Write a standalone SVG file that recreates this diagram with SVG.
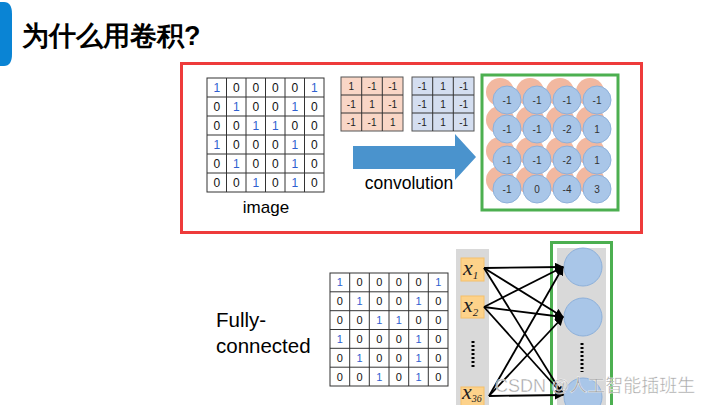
<svg xmlns="http://www.w3.org/2000/svg" width="720" height="405" viewBox="0 0 720 405">
<defs>
<style>
.t{font-family:"Liberation Sans","Noto Sans",sans-serif;fill:#000}
.c{font-family:"Liberation Sans",sans-serif;font-size:12px;text-anchor:middle;fill:#111}
.c.b{fill:#2f5fd0}
.cs{font-family:"Liberation Sans",sans-serif;font-size:11px;text-anchor:middle;fill:#111}
.cs.b{fill:#2f5fd0}
.k{font-family:"Liberation Sans",sans-serif;font-size:10px;text-anchor:middle;fill:#222}
.grid{fill:#fff;stroke:#333;stroke-width:1}
.gl{stroke:#333;stroke-width:1}
.oc{fill:#f2b8a0}
.bc{fill:#a9c6e8;stroke:#8db0da;stroke-width:1}
.ov{font-family:"Liberation Sans",sans-serif;font-size:10px;text-anchor:middle;fill:#333}
.xl{font-family:"Liberation Serif",serif;font-style:italic;font-size:22px;fill:#222}
.xbox{fill:#fdd28a;stroke:#f5c06a;stroke-width:1}
.ln{stroke:#000;stroke-width:1.8;fill:none}
</style>
<marker id="ah" viewBox="0 0 10 10" refX="9" refY="5" markerWidth="5" markerHeight="5" orient="auto">
<path d="M0,0 L10,5 L0,10 z" fill="#000"/>
</marker>
</defs>
<rect width="720" height="405" fill="#fff"/>

<g id="title">
<path d="M0,2 L4,2 Q12,2 12,14 L12,54 Q12,66 4,66 L0,66 z" fill="#0a84d4"/>
<text x="22" y="45" class="t" font-size="27" font-weight="bold" font-family="'Noto Sans CJK SC',sans-serif">为什么用卷积?</text>
</g>

<g id="conv-frame">
<rect x="181.5" y="63.5" width="460" height="169" fill="none" stroke="#ee3b3b" stroke-width="3"/>
</g>

<g id="image-grid">
<rect x="207" y="78" width="117" height="114" class="grid"/>
<path class="gl" d="M226.5,78V192M246,78V192M265.5,78V192M285,78V192M304.5,78V192M207,97H324M207,116H324M207,135H324M207,154H324M207,173H324"/>
<g>
<text class="c b" x="216.75" y="91.5">1</text><text class="c" x="236.25" y="91.5">0</text><text class="c" x="255.75" y="91.5">0</text><text class="c" x="275.25" y="91.5">0</text><text class="c" x="294.75" y="91.5">0</text><text class="c b" x="314.25" y="91.5">1</text>
<text class="c" x="216.75" y="110.5">0</text><text class="c b" x="236.25" y="110.5">1</text><text class="c" x="255.75" y="110.5">0</text><text class="c" x="275.25" y="110.5">0</text><text class="c b" x="294.75" y="110.5">1</text><text class="c" x="314.25" y="110.5">0</text>
<text class="c" x="216.75" y="129.5">0</text><text class="c" x="236.25" y="129.5">0</text><text class="c b" x="255.75" y="129.5">1</text><text class="c b" x="275.25" y="129.5">1</text><text class="c" x="294.75" y="129.5">0</text><text class="c" x="314.25" y="129.5">0</text>
<text class="c b" x="216.75" y="148.5">1</text><text class="c" x="236.25" y="148.5">0</text><text class="c" x="255.75" y="148.5">0</text><text class="c" x="275.25" y="148.5">0</text><text class="c b" x="294.75" y="148.5">1</text><text class="c" x="314.25" y="148.5">0</text>
<text class="c" x="216.75" y="167.5">0</text><text class="c b" x="236.25" y="167.5">1</text><text class="c" x="255.75" y="167.5">0</text><text class="c" x="275.25" y="167.5">0</text><text class="c b" x="294.75" y="167.5">1</text><text class="c" x="314.25" y="167.5">0</text>
<text class="c" x="216.75" y="186.5">0</text><text class="c" x="236.25" y="186.5">0</text><text class="c b" x="255.75" y="186.5">1</text><text class="c" x="275.25" y="186.5">0</text><text class="c b" x="294.75" y="186.5">1</text><text class="c" x="314.25" y="186.5">0</text>
</g>
<text x="266" y="213" class="t" font-size="17" text-anchor="middle">image</text>
</g>

<g id="kernel-1">
<rect x="341" y="77" width="62" height="54" fill="#f9d6c6" stroke="#555" stroke-width="1"/>
<path class="gl" stroke="#666" d="M361.7,77V131M382.3,77V131M341,95H403M341,113H403"/>
<text class="k" x="351.3" y="90">1</text><text class="k" x="372" y="90">-1</text><text class="k" x="392.7" y="90">-1</text>
<text class="k" x="351.3" y="108">-1</text><text class="k" x="372" y="108">1</text><text class="k" x="392.7" y="108">-1</text>
<text class="k" x="351.3" y="126">-1</text><text class="k" x="372" y="126">-1</text><text class="k" x="392.7" y="126">1</text>
</g>

<g id="kernel-2">
<rect x="412" y="77" width="62" height="54" fill="#d4def0" stroke="#555" stroke-width="1"/>
<path class="gl" stroke="#666" d="M432.7,77V131M453.3,77V131M412,95H474M412,113H474"/>
<text class="k" x="422.3" y="90">-1</text><text class="k" x="443" y="90">1</text><text class="k" x="463.7" y="90">-1</text>
<text class="k" x="422.3" y="108">-1</text><text class="k" x="443" y="108">1</text><text class="k" x="463.7" y="108">-1</text>
<text class="k" x="422.3" y="126">-1</text><text class="k" x="443" y="126">1</text><text class="k" x="463.7" y="126">-1</text>
</g>

<g id="convolution-arrow">
<path d="M353,146 H455 V134 L476,157 L455,180 V169 H353 z" fill="#4a93cd"/>
<text x="409" y="189" class="t" font-size="17.5" text-anchor="middle">convolution</text>
</g>

<g id="feature-map">
<rect x="482" y="75" width="136" height="135" fill="#fff" stroke="#4caf50" stroke-width="3"/>
<g>
<circle class="oc" cx="500" cy="92" r="14"/><circle class="oc" cx="530" cy="92" r="14"/><circle class="oc" cx="560" cy="92" r="14"/><circle class="oc" cx="590" cy="92" r="14"/>
<circle class="oc" cx="500" cy="120" r="14"/><circle class="oc" cx="530" cy="120" r="14"/><circle class="oc" cx="560" cy="120" r="14"/><circle class="oc" cx="590" cy="120" r="14"/>
<circle class="oc" cx="500" cy="151" r="14"/><circle class="oc" cx="530" cy="151" r="14"/><circle class="oc" cx="560" cy="151" r="14"/><circle class="oc" cx="590" cy="151" r="14"/>
<circle class="oc" cx="500" cy="180" r="14"/><circle class="oc" cx="530" cy="180" r="14"/><circle class="oc" cx="560" cy="180" r="14"/><circle class="oc" cx="590" cy="180" r="14"/>
</g>
<g>
<circle class="bc" cx="507" cy="100" r="14"/><circle class="bc" cx="537" cy="100" r="14"/><circle class="bc" cx="567" cy="100" r="14"/><circle class="bc" cx="597" cy="100" r="14"/>
<circle class="bc" cx="507" cy="129" r="14"/><circle class="bc" cx="537" cy="129" r="14"/><circle class="bc" cx="567" cy="129" r="14"/><circle class="bc" cx="597" cy="129" r="14"/>
<circle class="bc" cx="507" cy="160" r="14"/><circle class="bc" cx="537" cy="160" r="14"/><circle class="bc" cx="567" cy="160" r="14"/><circle class="bc" cx="597" cy="160" r="14"/>
<circle class="bc" cx="507" cy="189" r="14"/><circle class="bc" cx="537" cy="189" r="14"/><circle class="bc" cx="567" cy="189" r="14"/><circle class="bc" cx="597" cy="189" r="14"/>
</g>
<text class="ov" x="507" y="104">-1</text><text class="ov" x="537" y="104">-1</text><text class="ov" x="567" y="104">-1</text><text class="ov" x="597" y="104">-1</text>
<text class="ov" x="507" y="133">-1</text><text class="ov" x="537" y="133">-1</text><text class="ov" x="567" y="133">-2</text><text class="ov" x="597" y="133">1</text>
<text class="ov" x="507" y="164">-1</text><text class="ov" x="537" y="164">-1</text><text class="ov" x="567" y="164">-2</text><text class="ov" x="597" y="164">1</text>
<text class="ov" x="507" y="193">-1</text><text class="ov" x="537" y="193">0</text><text class="ov" x="567" y="193">-4</text><text class="ov" x="597" y="193">3</text>
</g>

<g id="fc-label">
<text x="216" y="327" class="t" font-size="20.5">Fully-</text>
<text x="216" y="353" class="t" font-size="20.5">connected</text>
</g>

<g id="fc-grid">
<rect x="330" y="273" width="118" height="113" class="grid"/>
<path class="gl" d="M349.7,273V386M369.3,273V386M389,273V386M408.7,273V386M428.3,273V386M330,291.8H448M330,310.7H448M330,329.5H448M330,348.3H448M330,367.2H448"/>
<text class="cs b" x="339.8" y="286.4">1</text><text class="cs" x="359.5" y="286.4">0</text><text class="cs" x="379.2" y="286.4">0</text><text class="cs" x="398.8" y="286.4">0</text><text class="cs" x="418.5" y="286.4">0</text><text class="cs b" x="438.2" y="286.4">1</text>
<text class="cs" x="339.8" y="305.2">0</text><text class="cs b" x="359.5" y="305.2">1</text><text class="cs" x="379.2" y="305.2">0</text><text class="cs" x="398.8" y="305.2">0</text><text class="cs b" x="418.5" y="305.2">1</text><text class="cs" x="438.2" y="305.2">0</text>
<text class="cs" x="339.8" y="324.1">0</text><text class="cs" x="359.5" y="324.1">0</text><text class="cs b" x="379.2" y="324.1">1</text><text class="cs b" x="398.8" y="324.1">1</text><text class="cs" x="418.5" y="324.1">0</text><text class="cs" x="438.2" y="324.1">0</text>
<text class="cs b" x="339.8" y="342.9">1</text><text class="cs" x="359.5" y="342.9">0</text><text class="cs" x="379.2" y="342.9">0</text><text class="cs" x="398.8" y="342.9">0</text><text class="cs b" x="418.5" y="342.9">1</text><text class="cs" x="438.2" y="342.9">0</text>
<text class="cs" x="339.8" y="361.8">0</text><text class="cs b" x="359.5" y="361.8">1</text><text class="cs" x="379.2" y="361.8">0</text><text class="cs" x="398.8" y="361.8">0</text><text class="cs b" x="418.5" y="361.8">1</text><text class="cs" x="438.2" y="361.8">0</text>
<text class="cs" x="339.8" y="380.6">0</text><text class="cs" x="359.5" y="380.6">0</text><text class="cs b" x="379.2" y="380.6">1</text><text class="cs" x="398.8" y="380.6">0</text><text class="cs b" x="418.5" y="380.6">1</text><text class="cs" x="438.2" y="380.6">0</text>
</g>

<g id="input-layer">
<rect x="456" y="249" width="33" height="160" fill="#d9d9d9"/>
<g id="x1"><rect x="461" y="258" width="23" height="23" class="xbox"/><text x="463" y="275" class="xl">x<tspan font-size="11" dy="4">1</tspan></text></g>
<g id="x2"><rect x="461" y="296" width="23" height="22" class="xbox"/><text x="463" y="312" class="xl">x<tspan font-size="11" dy="4">2</tspan></text></g>
<path d="M473,341V369" stroke="#000" stroke-width="3" stroke-dasharray="2 2"/>
<g id="x36"><rect x="461" y="387" width="23" height="22" class="xbox"/><text x="462" y="399" class="xl">x<tspan font-size="10" dy="3">36</tspan></text></g>
</g>

<g id="hidden-layer">
<rect x="557" y="248" width="49" height="160" fill="#d9d9d9"/>
<circle cx="583" cy="267" r="19" class="bc"/>
<circle cx="583" cy="317" r="19" class="bc"/>
<path d="M582,343V372" stroke="#000" stroke-width="3" stroke-dasharray="2 2"/>
<circle cx="583" cy="397" r="19" class="bc"/>
<rect x="551.5" y="242.5" width="60" height="170" fill="none" stroke="#4caf50" stroke-width="3"/>
</g>

<g id="connectors">
<line class="ln" x1="484" y1="268" x2="563" y2="267" marker-end="url(#ah)"/>
<line class="ln" x1="484" y1="268" x2="563" y2="317" marker-end="url(#ah)"/>
<line class="ln" x1="484" y1="268" x2="563" y2="395" marker-end="url(#ah)"/>
<line class="ln" x1="484" y1="307" x2="563" y2="267" marker-end="url(#ah)"/>
<line class="ln" x1="484" y1="307" x2="563" y2="317" marker-end="url(#ah)"/>
<line class="ln" x1="484" y1="307" x2="563" y2="395" marker-end="url(#ah)"/>
<line class="ln" x1="489" y1="396" x2="563" y2="267" marker-end="url(#ah)"/>
<line class="ln" x1="489" y1="396" x2="563" y2="317" marker-end="url(#ah)"/>
<line class="ln" x1="489" y1="396" x2="563" y2="395" marker-end="url(#ah)"/>
</g>

<text x="495" y="392" font-size="18" fill="#9a9a9a" fill-opacity="0.9" stroke="#fff" stroke-width="0.4" font-family="'Liberation Sans','Noto Sans CJK SC',sans-serif">CSDN @人工智能插班生</text>
</svg>
